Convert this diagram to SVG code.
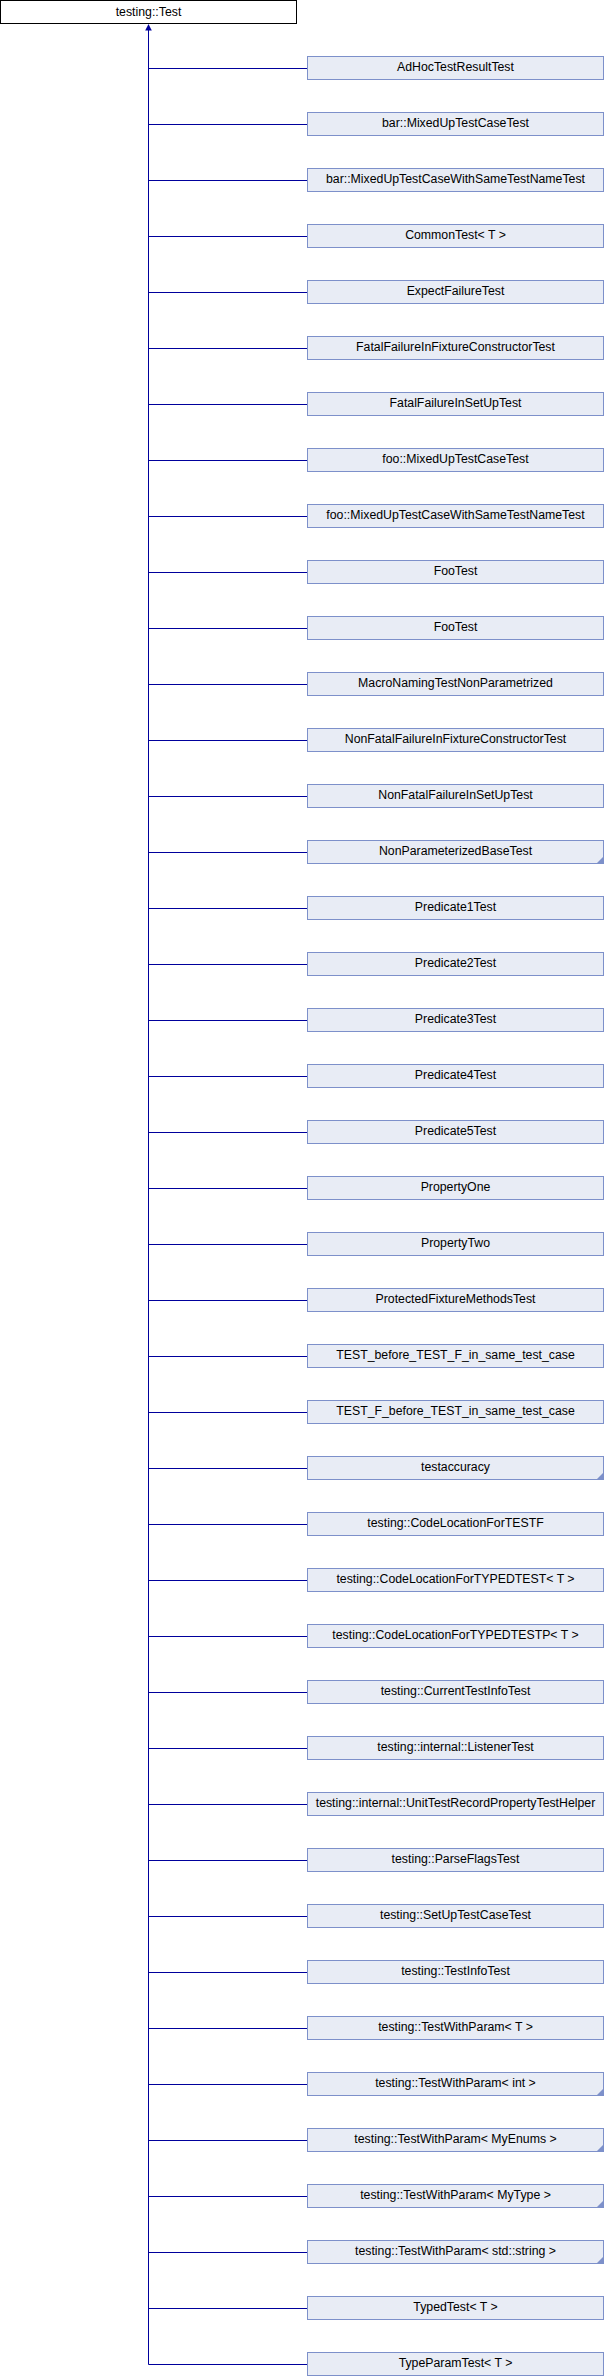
<svg xmlns="http://www.w3.org/2000/svg" width="604" height="2376" viewBox="0 0 604 2376">
<style>
.bg{fill:#ffffff}
.root{fill:#ffffff;stroke:#000000;stroke-width:1}
.box{fill:#E8ECF5;stroke:#7D90CA;stroke-width:1}
.tri{fill:#7D90CA}
.lbl{font-family:"Liberation Sans",Arial,sans-serif;font-size:12.3px;fill:#000000;text-anchor:middle}
.edge{fill:none;stroke:#00009C;stroke-width:1}
.head{fill:#00009C}
</style>
<rect class="bg" x="0" y="0" width="604" height="2376"/>
<g id="connectors">
<path class="edge" d="M148.5 29V2364.5 M148.5 68.5H307 M148.5 124.5H307 M148.5 180.5H307 M148.5 236.5H307 M148.5 292.5H307 M148.5 348.5H307 M148.5 404.5H307 M148.5 460.5H307 M148.5 516.5H307 M148.5 572.5H307 M148.5 628.5H307 M148.5 684.5H307 M148.5 740.5H307 M148.5 796.5H307 M148.5 852.5H307 M148.5 908.5H307 M148.5 964.5H307 M148.5 1020.5H307 M148.5 1076.5H307 M148.5 1132.5H307 M148.5 1188.5H307 M148.5 1244.5H307 M148.5 1300.5H307 M148.5 1356.5H307 M148.5 1412.5H307 M148.5 1468.5H307 M148.5 1524.5H307 M148.5 1580.5H307 M148.5 1636.5H307 M148.5 1692.5H307 M148.5 1748.5H307 M148.5 1804.5H307 M148.5 1860.5H307 M148.5 1916.5H307 M148.5 1972.5H307 M148.5 2028.5H307 M148.5 2084.5H307 M148.5 2140.5H307 M148.5 2196.5H307 M148.5 2252.5H307 M148.5 2308.5H307 M148.5 2364.5H307"/>
<polygon class="head" points="148.5,24 151.8,30.5 145.2,30.5"/>
</g>
<g id="root">
<rect class="root" x="0.5" y="0.5" width="296" height="23"/>
<text class="lbl" x="148.5" y="15.5">testing::Test</text>
</g>
<g id="n0" transform="translate(307,56)"><rect class="box" x="0.5" y="0.5" width="296" height="23"/><text class="lbl" x="148.5" y="15">AdHocTestResultTest</text></g>
<g id="n1" transform="translate(307,112)"><rect class="box" x="0.5" y="0.5" width="296" height="23"/><text class="lbl" x="148.5" y="15">bar::MixedUpTestCaseTest</text></g>
<g id="n2" transform="translate(307,168)"><rect class="box" x="0.5" y="0.5" width="296" height="23"/><text class="lbl" x="148.5" y="15">bar::MixedUpTestCaseWithSameTestNameTest</text></g>
<g id="n3" transform="translate(307,224)"><rect class="box" x="0.5" y="0.5" width="296" height="23"/><text class="lbl" x="148.5" y="15">CommonTest&lt; T &gt;</text></g>
<g id="n4" transform="translate(307,280)"><rect class="box" x="0.5" y="0.5" width="296" height="23"/><text class="lbl" x="148.5" y="15">ExpectFailureTest</text></g>
<g id="n5" transform="translate(307,336)"><rect class="box" x="0.5" y="0.5" width="296" height="23"/><text class="lbl" x="148.5" y="15">FatalFailureInFixtureConstructorTest</text></g>
<g id="n6" transform="translate(307,392)"><rect class="box" x="0.5" y="0.5" width="296" height="23"/><text class="lbl" x="148.5" y="15">FatalFailureInSetUpTest</text></g>
<g id="n7" transform="translate(307,448)"><rect class="box" x="0.5" y="0.5" width="296" height="23"/><text class="lbl" x="148.5" y="15">foo::MixedUpTestCaseTest</text></g>
<g id="n8" transform="translate(307,504)"><rect class="box" x="0.5" y="0.5" width="296" height="23"/><text class="lbl" x="148.5" y="15">foo::MixedUpTestCaseWithSameTestNameTest</text></g>
<g id="n9" transform="translate(307,560)"><rect class="box" x="0.5" y="0.5" width="296" height="23"/><text class="lbl" x="148.5" y="15">FooTest</text></g>
<g id="n10" transform="translate(307,616)"><rect class="box" x="0.5" y="0.5" width="296" height="23"/><text class="lbl" x="148.5" y="15">FooTest</text></g>
<g id="n11" transform="translate(307,672)"><rect class="box" x="0.5" y="0.5" width="296" height="23"/><text class="lbl" x="148.5" y="15">MacroNamingTestNonParametrized</text></g>
<g id="n12" transform="translate(307,728)"><rect class="box" x="0.5" y="0.5" width="296" height="23"/><text class="lbl" x="148.5" y="15">NonFatalFailureInFixtureConstructorTest</text></g>
<g id="n13" transform="translate(307,784)"><rect class="box" x="0.5" y="0.5" width="296" height="23"/><text class="lbl" x="148.5" y="15">NonFatalFailureInSetUpTest</text></g>
<g id="n14" transform="translate(307,840)"><rect class="box" x="0.5" y="0.5" width="296" height="23"/><polygon class="tri" points="289.5,23.5 296.5,16.5 296.5,23.5"/><text class="lbl" x="148.5" y="15">NonParameterizedBaseTest</text></g>
<g id="n15" transform="translate(307,896)"><rect class="box" x="0.5" y="0.5" width="296" height="23"/><text class="lbl" x="148.5" y="15">Predicate1Test</text></g>
<g id="n16" transform="translate(307,952)"><rect class="box" x="0.5" y="0.5" width="296" height="23"/><text class="lbl" x="148.5" y="15">Predicate2Test</text></g>
<g id="n17" transform="translate(307,1008)"><rect class="box" x="0.5" y="0.5" width="296" height="23"/><text class="lbl" x="148.5" y="15">Predicate3Test</text></g>
<g id="n18" transform="translate(307,1064)"><rect class="box" x="0.5" y="0.5" width="296" height="23"/><text class="lbl" x="148.5" y="15">Predicate4Test</text></g>
<g id="n19" transform="translate(307,1120)"><rect class="box" x="0.5" y="0.5" width="296" height="23"/><text class="lbl" x="148.5" y="15">Predicate5Test</text></g>
<g id="n20" transform="translate(307,1176)"><rect class="box" x="0.5" y="0.5" width="296" height="23"/><text class="lbl" x="148.5" y="15">PropertyOne</text></g>
<g id="n21" transform="translate(307,1232)"><rect class="box" x="0.5" y="0.5" width="296" height="23"/><text class="lbl" x="148.5" y="15">PropertyTwo</text></g>
<g id="n22" transform="translate(307,1288)"><rect class="box" x="0.5" y="0.5" width="296" height="23"/><text class="lbl" x="148.5" y="15">ProtectedFixtureMethodsTest</text></g>
<g id="n23" transform="translate(307,1344)"><rect class="box" x="0.5" y="0.5" width="296" height="23"/><text class="lbl" x="148.5" y="15">TEST_before_TEST_F_in_same_test_case</text></g>
<g id="n24" transform="translate(307,1400)"><rect class="box" x="0.5" y="0.5" width="296" height="23"/><text class="lbl" x="148.5" y="15">TEST_F_before_TEST_in_same_test_case</text></g>
<g id="n25" transform="translate(307,1456)"><rect class="box" x="0.5" y="0.5" width="296" height="23"/><polygon class="tri" points="289.5,23.5 296.5,16.5 296.5,23.5"/><text class="lbl" x="148.5" y="15">testaccuracy</text></g>
<g id="n26" transform="translate(307,1512)"><rect class="box" x="0.5" y="0.5" width="296" height="23"/><text class="lbl" x="148.5" y="15">testing::CodeLocationForTESTF</text></g>
<g id="n27" transform="translate(307,1568)"><rect class="box" x="0.5" y="0.5" width="296" height="23"/><text class="lbl" x="148.5" y="15">testing::CodeLocationForTYPEDTEST&lt; T &gt;</text></g>
<g id="n28" transform="translate(307,1624)"><rect class="box" x="0.5" y="0.5" width="296" height="23"/><text class="lbl" x="148.5" y="15">testing::CodeLocationForTYPEDTESTP&lt; T &gt;</text></g>
<g id="n29" transform="translate(307,1680)"><rect class="box" x="0.5" y="0.5" width="296" height="23"/><text class="lbl" x="148.5" y="15">testing::CurrentTestInfoTest</text></g>
<g id="n30" transform="translate(307,1736)"><rect class="box" x="0.5" y="0.5" width="296" height="23"/><text class="lbl" x="148.5" y="15">testing::internal::ListenerTest</text></g>
<g id="n31" transform="translate(307,1792)"><rect class="box" x="0.5" y="0.5" width="296" height="23"/><text class="lbl" x="148.5" y="15">testing::internal::UnitTestRecordPropertyTestHelper</text></g>
<g id="n32" transform="translate(307,1848)"><rect class="box" x="0.5" y="0.5" width="296" height="23"/><text class="lbl" x="148.5" y="15">testing::ParseFlagsTest</text></g>
<g id="n33" transform="translate(307,1904)"><rect class="box" x="0.5" y="0.5" width="296" height="23"/><text class="lbl" x="148.5" y="15">testing::SetUpTestCaseTest</text></g>
<g id="n34" transform="translate(307,1960)"><rect class="box" x="0.5" y="0.5" width="296" height="23"/><text class="lbl" x="148.5" y="15">testing::TestInfoTest</text></g>
<g id="n35" transform="translate(307,2016)"><rect class="box" x="0.5" y="0.5" width="296" height="23"/><text class="lbl" x="148.5" y="15">testing::TestWithParam&lt; T &gt;</text></g>
<g id="n36" transform="translate(307,2072)"><rect class="box" x="0.5" y="0.5" width="296" height="23"/><polygon class="tri" points="289.5,23.5 296.5,16.5 296.5,23.5"/><text class="lbl" x="148.5" y="15">testing::TestWithParam&lt; int &gt;</text></g>
<g id="n37" transform="translate(307,2128)"><rect class="box" x="0.5" y="0.5" width="296" height="23"/><polygon class="tri" points="289.5,23.5 296.5,16.5 296.5,23.5"/><text class="lbl" x="148.5" y="15">testing::TestWithParam&lt; MyEnums &gt;</text></g>
<g id="n38" transform="translate(307,2184)"><rect class="box" x="0.5" y="0.5" width="296" height="23"/><polygon class="tri" points="289.5,23.5 296.5,16.5 296.5,23.5"/><text class="lbl" x="148.5" y="15">testing::TestWithParam&lt; MyType &gt;</text></g>
<g id="n39" transform="translate(307,2240)"><rect class="box" x="0.5" y="0.5" width="296" height="23"/><polygon class="tri" points="289.5,23.5 296.5,16.5 296.5,23.5"/><text class="lbl" x="148.5" y="15">testing::TestWithParam&lt; std::string &gt;</text></g>
<g id="n40" transform="translate(307,2296)"><rect class="box" x="0.5" y="0.5" width="296" height="23"/><text class="lbl" x="148.5" y="15">TypedTest&lt; T &gt;</text></g>
<g id="n41" transform="translate(307,2352)"><rect class="box" x="0.5" y="0.5" width="296" height="23"/><text class="lbl" x="148.5" y="15">TypeParamTest&lt; T &gt;</text></g>
</svg>
